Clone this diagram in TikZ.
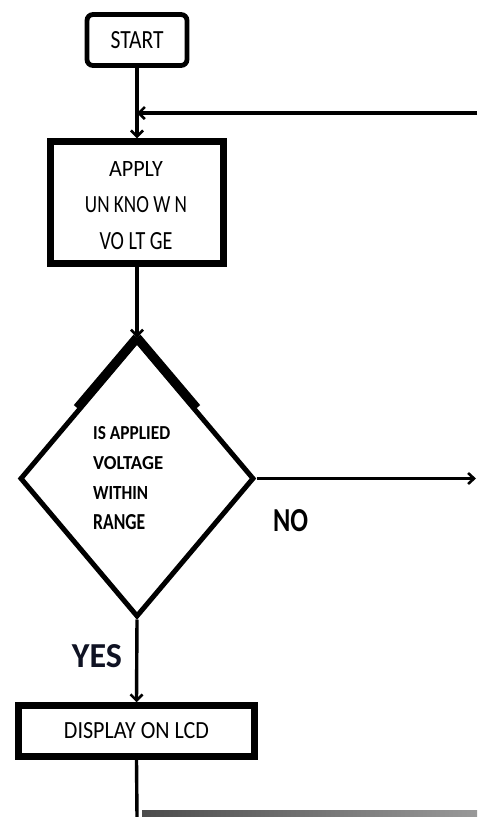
\documentclass[tikz,border=0pt]{standalone}
\usepackage{fontspec}
\setmainfont{Carlito}
\usetikzlibrary{shapes.geometric,arrows.meta,calc}
\newcommand{\fitbox}[3]{\resizebox{#1pt}{#2pt}{#3}}
\tikzset{
  boxnode/.style={draw=black,rectangle,inner sep=0pt,line width=6.5pt},
  conn/.style={line width=3.4pt,-{Straight Barb[length=6pt,width=12pt,line width=2.6pt]}},
  thinconn/.style={line width=2.4pt,-{Straight Barb[length=6pt,width=11pt,line width=2.6pt]}},
  lbl/.style={inner sep=0pt,text=black},
}
\begin{document}
\begin{tikzpicture}[x=1pt,y=-1pt]
\useasboundingbox[fill=white] (0,0) rectangle (477,817);

% start
\node[boxnode,line width=4.8pt,rounded corners=6pt,minimum width=100pt,minimum height=51pt] (start) at (137,40) {\fitbox{53}{17}{START}};

% apply
\node[boxnode,minimum width=173pt,minimum height=122pt] (apply) at (137,202.5) {};
\node[lbl,align=center,font=\fontsize{10}{36.5}\selectfont] (applytext) at (136,205.5)
  {\fitbox{54}{15}{APPLY}\\\fitbox{102}{16}{UN KNO W N}\\\fitbox{73}{17}{VO LT GE}};

% decision
\node[draw=black,diamond,line width=5pt,inner sep=0pt,minimum width=234pt,minimum height=277pt] (dec) at (137,478.5) {};
\draw[line width=9pt] (dec.north) -- ($(dec.north)!0.5!(dec.west)$);
\draw[line width=9pt] (dec.north) -- ($(dec.north)!0.5!(dec.east)$);
\node[lbl,align=left,anchor=north west,font=\fontsize{10}{30}\selectfont\bfseries] (dectext) at (93,426.7)
  {\fitbox{77}{13}{IS APPLIED}\\\fitbox{70}{13}{VOLTAGE}\\\fitbox{55}{13}{WITHIN}\\\fitbox{52}{15}{RANGE}};

% display
\node[boxnode,minimum width=236pt,minimum height=51pt] (disp) at (136.5,731) {\fitbox{145}{16}{DISPLAY ON LCD}};

% labels
\node[lbl,font=\bfseries] (no) at (290.5,521) {\fitbox{35}{22}{NO}};
\node[lbl,font=\bfseries,text={rgb,255:red,15;green,18;blue,35}] (yes) at (97,656.5) {\fitbox{50}{23}{YES}};

% coordinates
\coordinate (fbstart) at (477,113);
\coordinate (fbend) at (137,113);
\coordinate (noend) at (476,478.5);
\coordinate (bottom) at (137,817);

% connectors
\draw[conn] (start.south) -- (apply.north);
\draw[conn] (fbstart) -- (fbend);
\draw[conn] (apply.south) -- (dec.north);
\draw[thinconn] (dec.east) -- (noend);
\draw[conn] (dec.south) -- (disp.north);
\draw[line width=3.4pt] (disp.south) -- (bottom);

% scan smudge
\shade[left color=black!70,right color=black!40] (142,810) rectangle (477,817);
\end{tikzpicture}
\end{document}
